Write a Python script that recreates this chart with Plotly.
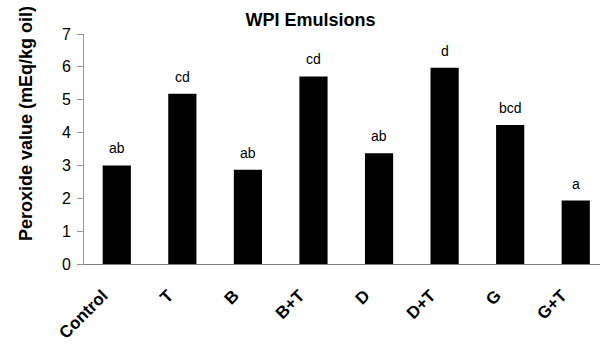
import plotly.graph_objects as go

categories = ["Control", "T", "B", "B+T", "D", "D+T", "G", "G+T"]
values = [3.00, 5.18, 2.87, 5.71, 3.37, 5.97, 4.23, 1.93]
letters = ["ab", "cd", "ab", "cd", "ab", "d", "bcd", "a"]
y_ticks = [0, 1, 2, 3, 4, 5, 6, 7]

FONT = "Liberation Sans, Arial, sans-serif"

fig = go.Figure()
fig.add_trace(go.Bar(
    x=categories, y=values,
    marker=dict(color="black", line=dict(width=0)),
    width=0.43,
))

annotations = []
for c, v, t in zip(categories, values, letters):
    annotations.append(dict(
        x=c, y=v, xref="x", yref="y", text=t, showarrow=False,
        xanchor="center", yanchor="bottom", yshift=7,
        font=dict(family=FONT, size=14, color="black"),
    ))

plot_w = 600 - 84
plot_h = 344 - 34 - 80
annotations.append(dict(
    text="<b>Peroxide value (mEq/kg oil)</b>",
    x=(26 - 84) / plot_w, xref="paper",
    y=(344 - 80 - 124) / plot_h, yref="paper",
    xanchor="center", yanchor="middle",
    showarrow=False, textangle=-90,
    font=dict(family=FONT, size=18, color="black"),
))

fig.update_layout(
    width=600, height=344,
    margin=dict(l=84, r=0, t=34, b=80),
    paper_bgcolor="white", plot_bgcolor="white",
    showlegend=False,
    font=dict(family=FONT, color="black"),
    title=dict(text="<b>WPI Emulsions</b>", x=310.5 / 600, xanchor="center",
               xref="container", yref="container", y=1 - 20 / 344, yanchor="middle",
               font=dict(size=18, color="black")),
    xaxis=dict(
        range=[-0.5, 7.37],
        showline=True, linecolor="#808080", linewidth=1,
        ticks="", tickangle=-45, ticklabelstandoff=14, ticklabelshift=-14,
        tickfont=dict(size=17, family=FONT, color="black", weight="bold"),
        showgrid=False, zeroline=False,
    ),
    yaxis=dict(
        range=[0, 7], tickvals=y_ticks,
        showline=True, linecolor="#999999", linewidth=1,
        ticks="outside", ticklen=6, tickcolor="#999999",
        ticklabelstandoff=3,
        tickfont=dict(size=16, family=FONT, color="black"),
        showgrid=False, zeroline=False,
    ),
    annotations=annotations,
)

fig.write_html("out.html")
